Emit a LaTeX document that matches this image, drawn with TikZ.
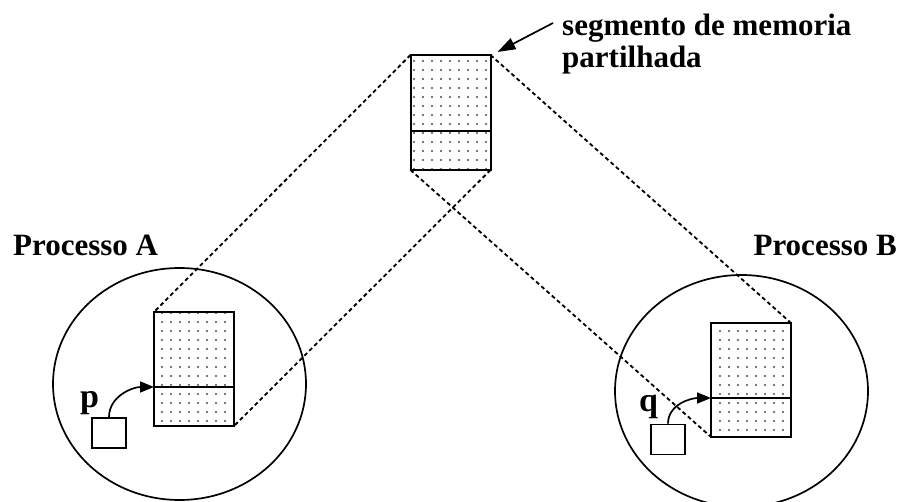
\documentclass[tikz,border=0pt]{standalone}
\usepackage{fontspec}
\setmainfont{Liberation Serif}
\usetikzlibrary{positioning, arrows.meta, shapes.geometric, patterns.meta}

\begin{document}
\begin{tikzpicture}[
  x=1pt, y=-1pt,
  seg/.style={draw, line width=2pt, outer sep=0pt, inner sep=0pt,
              minimum width=80pt, pattern={Dots[distance=9pt, radius=1.1pt]},
              pattern color=black!70},
  proc/.style={draw, ellipse, line width=1.7pt, inner sep=0pt,
               minimum width=253pt, minimum height=232pt},
  ptr/.style={draw, line width=1.7pt, inner sep=0pt,
              minimum width=34pt, minimum height=30pt},
  link/.style={line width=1.8pt, dash pattern=on 4pt off 3pt},
  flow/.style={-{Triangle[length=14pt, width=11pt]}, line width=1.7pt},
  ttl/.style={font=\fontsize{31}{32}\selectfont\bfseries, inner sep=0pt},
  var/.style={font=\fontsize{34}{36}\selectfont\bfseries, inner sep=0pt}
]
  \useasboundingbox (0,0) rectangle (902,502);

  % processes
  \node[proc] (procA) at (179.5,384) {};
  \node[proc] (procB) at (741.5,391) {};

  % shared segment and its mappings
  \node[seg, minimum height=76pt] (segTop) at (450.5,93) {};
  \node[seg, minimum height=39pt, below=0pt of segTop] (segLow) {};

  \node[seg, minimum height=75pt] (aTop) at (194,349.5) {};
  \node[seg, minimum height=39pt, below=0pt of aTop] (aLow) {};

  \node[seg, minimum height=75pt] (bTop) at (751,360.5) {};
  \node[seg, minimum height=39pt, below=0pt of bTop] (bLow) {};

  \draw[link] (segTop.north west) -- (aTop.north west);
  \draw[link] (segTop.north east) -- (bTop.north east);
  \draw[link] (segLow.south west) -- (bLow.south west);
  \draw[link] (segLow.south east) -- (aLow.south east);

  % pointers
  \node[ptr] (pbox) at (109,433) {};
  \node[ptr] (qbox) at (668,439.5) {};
  \node[var, anchor=base west] (plbl) at (80,407) {p};
  \node[var, anchor=base west] (qlbl) at (639,411) {q};

  \draw[flow] (pbox.north) to[out=90, in=180] (aLow.north west);
  \draw[flow] (qbox.north) to[out=90, in=180] (bLow.north west);

  % labels
  \node[ttl, anchor=base west] (nameA) at (13,256) {Processo A};
  \node[ttl, anchor=base east] (nameB) at (897,256) {Processo B};
  \node[ttl, anchor=base west, align=left] (segname) at (562,68)
       {segmento de memoria\\partilhada};

  \coordinate (segtail) at (553,23);
  \draw[-{Triangle[length=18pt, width=12pt]}, line width=1.7pt]
       (segtail) -- ([shift={(7,-3)}]segTop.north east);
\end{tikzpicture}
\end{document}
